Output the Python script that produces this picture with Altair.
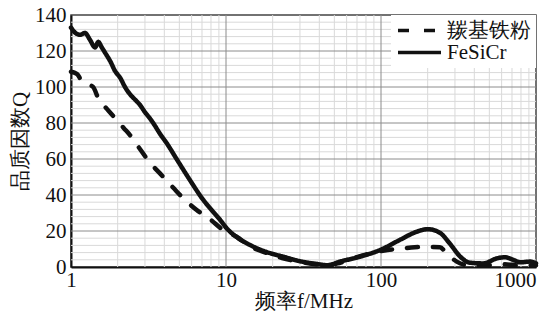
import altair as alt
import pandas as pd

# ---- data ----
fesicr_f = [1.0, 1.07, 1.14, 1.23, 1.33, 1.43, 1.5, 1.58, 1.66, 1.8, 1.92, 2.08, 2.23, 2.4, 2.59,
            2.79, 3.0, 3.2, 3.39, 3.75, 4.15, 4.8, 5.85, 7.1, 8.2, 9.1, 10.1, 12, 14.3, 18, 23.4,
            30, 38.4, 45, 54.5, 73, 98.5, 132, 170, 201, 240, 278, 325, 374, 457, 560, 630, 717,
            791, 915, 1000]
fesicr_q = [133, 130, 129, 130, 126, 122, 125, 122, 119, 114, 109, 105, 100, 96, 93,
            90, 86, 83, 80, 74, 68.7, 60, 48.3, 37.5, 31, 26.5, 21.5, 16, 12.2, 8.5, 5.7,
            3.2, 1.7, 1.0, 3.0, 5.7, 9.4, 15, 19.6, 21, 19, 13, 5.7, 2.4, 2.0, 4.8, 5.4, 3.9,
            2.6, 3.0, 2.0]

carbonyl_f = [1.0, 1.05, 1.1, 1.16, 1.25, 1.39, 1.5, 1.62, 1.74, 1.97, 2.2, 2.4, 2.72, 3.23,
              3.75, 4.57, 5.3, 6.47, 7.9, 9.6, 11.7, 14.3, 18, 23, 30, 38, 45, 55, 70, 90,
              110, 130, 165, 205, 240, 265, 308, 355, 420, 500, 600, 700, 800, 900, 1000]
carbonyl_q = [108.5, 108, 107, 104, 102, 100, 93.7, 90, 87, 81.7, 77, 73.3, 66.8, 58,
              52, 44, 38.2, 31.7, 26.5, 20.5, 16.8, 11.5, 8, 5, 2.8, 1.5, 0.8, 2.5, 5.5, 8,
              9.5, 10, 11, 11.2, 11, 7.6, 3, 1.1, 0.8, 1, 1.5, 1.2, 0.8, 1, 1]

series_names = ["羰基铁粉", "FeSiCr"]

x_ticks = [1, 10, 100, 1000]
y_ticks = [0, 20, 40, 60, 80, 100, 120, 140]
x_minor = [2, 3, 4, 5, 6, 7, 8, 9, 20, 30, 40, 50, 60, 70, 80, 90,
           200, 300, 400, 500, 600, 700, 800, 900]
x_major = [10, 100]
y_minor = [4, 8, 12, 16, 24, 28, 32, 36, 44, 48, 52, 56, 64, 68, 72, 76, 84, 88, 92, 96,
           104, 108, 112, 116, 124, 128, 132, 136]
y_major = [20, 40, 60, 80, 100, 120]

# ---- tables ----
lines = pd.concat([
    pd.DataFrame({"f": carbonyl_f, "Q": carbonyl_q, "s": series_names[0], "o": range(len(carbonyl_f))}),
    pd.DataFrame({"f": fesicr_f, "Q": fesicr_q, "s": series_names[1], "o": range(len(fesicr_f))}),
])

SERIF = "Liberation Serif"
INK = "#111111"

common = dict(labelFont=SERIF, labelFontSize=21, labelColor=INK,
              titleFont=SERIF, titleFontSize=21, titleColor=INK, titleFontWeight="normal",
              domainColor=INK, domainWidth=2, grid=False, ticks=False)

xscale = alt.Scale(type="log", domain=[1, 1000], nice=False)
yscale = alt.Scale(domain=[0, 140], nice=False, zero=False)

xaxis = alt.Axis(values=x_ticks, format="d", title="频率f/MHz",
                 labelFlush=False, labelPadding=2, titlePadding=0,
                 labelAlign=alt.ExprRef("datum.value >= 1000 ? 'right' : 'center'"),
                 **common)
yaxis = alt.Axis(values=y_ticks, title="品质因数Q", labelPadding=5, titlePadding=4, **common)

vminor = alt.Chart(pd.DataFrame({"f": x_minor})).mark_rule(color="#d9d9d9", strokeWidth=1).encode(
    x=alt.X("f:Q", scale=xscale, axis=xaxis))
vmajor = alt.Chart(pd.DataFrame({"f": x_major})).mark_rule(color="#8c8c8c", strokeWidth=1).encode(
    x=alt.X("f:Q", scale=xscale, axis=xaxis))
hminor = alt.Chart(pd.DataFrame({"Q": y_minor})).mark_rule(color="#d9d9d9", strokeWidth=1).encode(
    y=alt.Y("Q:Q", scale=yscale, axis=yaxis))
hmajor = alt.Chart(pd.DataFrame({"Q": y_major})).mark_rule(color="#8c8c8c", strokeWidth=1).encode(
    y=alt.Y("Q:Q", scale=yscale, axis=yaxis))

curves = alt.Chart(lines).mark_line(color=INK, strokeWidth=4.5, interpolate="monotone",
                                    strokeCap="round", strokeJoin="round").encode(
    x=alt.X("f:Q", scale=xscale, axis=xaxis),
    y=alt.Y("Q:Q", scale=yscale, axis=yaxis),
    strokeDash=alt.StrokeDash("s:N",
        scale=alt.Scale(domain=series_names, range=[[11, 15], [1, 0]]),
        legend=alt.Legend(title=None, orient="top-right", offset=0, fillColor="white",
                          padding=5, symbolType="stroke", symbolSize=1850, clipHeight=21,
                          symbolStrokeWidth=3.5, symbolStrokeColor=INK,
                          labelFont=SERIF, labelFontSize=21, labelColor=INK,
                          rowPadding=0, labelOffset=4)),
    order="o:Q",
)

chart = alt.layer(vminor, hminor, vmajor, hmajor, curves).properties(
    width=465, height=252,
    autosize=alt.AutoSizeParams(type="none"),
    padding={"left": 63, "top": 7, "right": 15, "bottom": 47},
).configure(background="white").configure_view(
    stroke="#444444", strokeWidth=1.5
)

chart.save("out.html", embed_options={"renderer": "svg", "actions": False})
